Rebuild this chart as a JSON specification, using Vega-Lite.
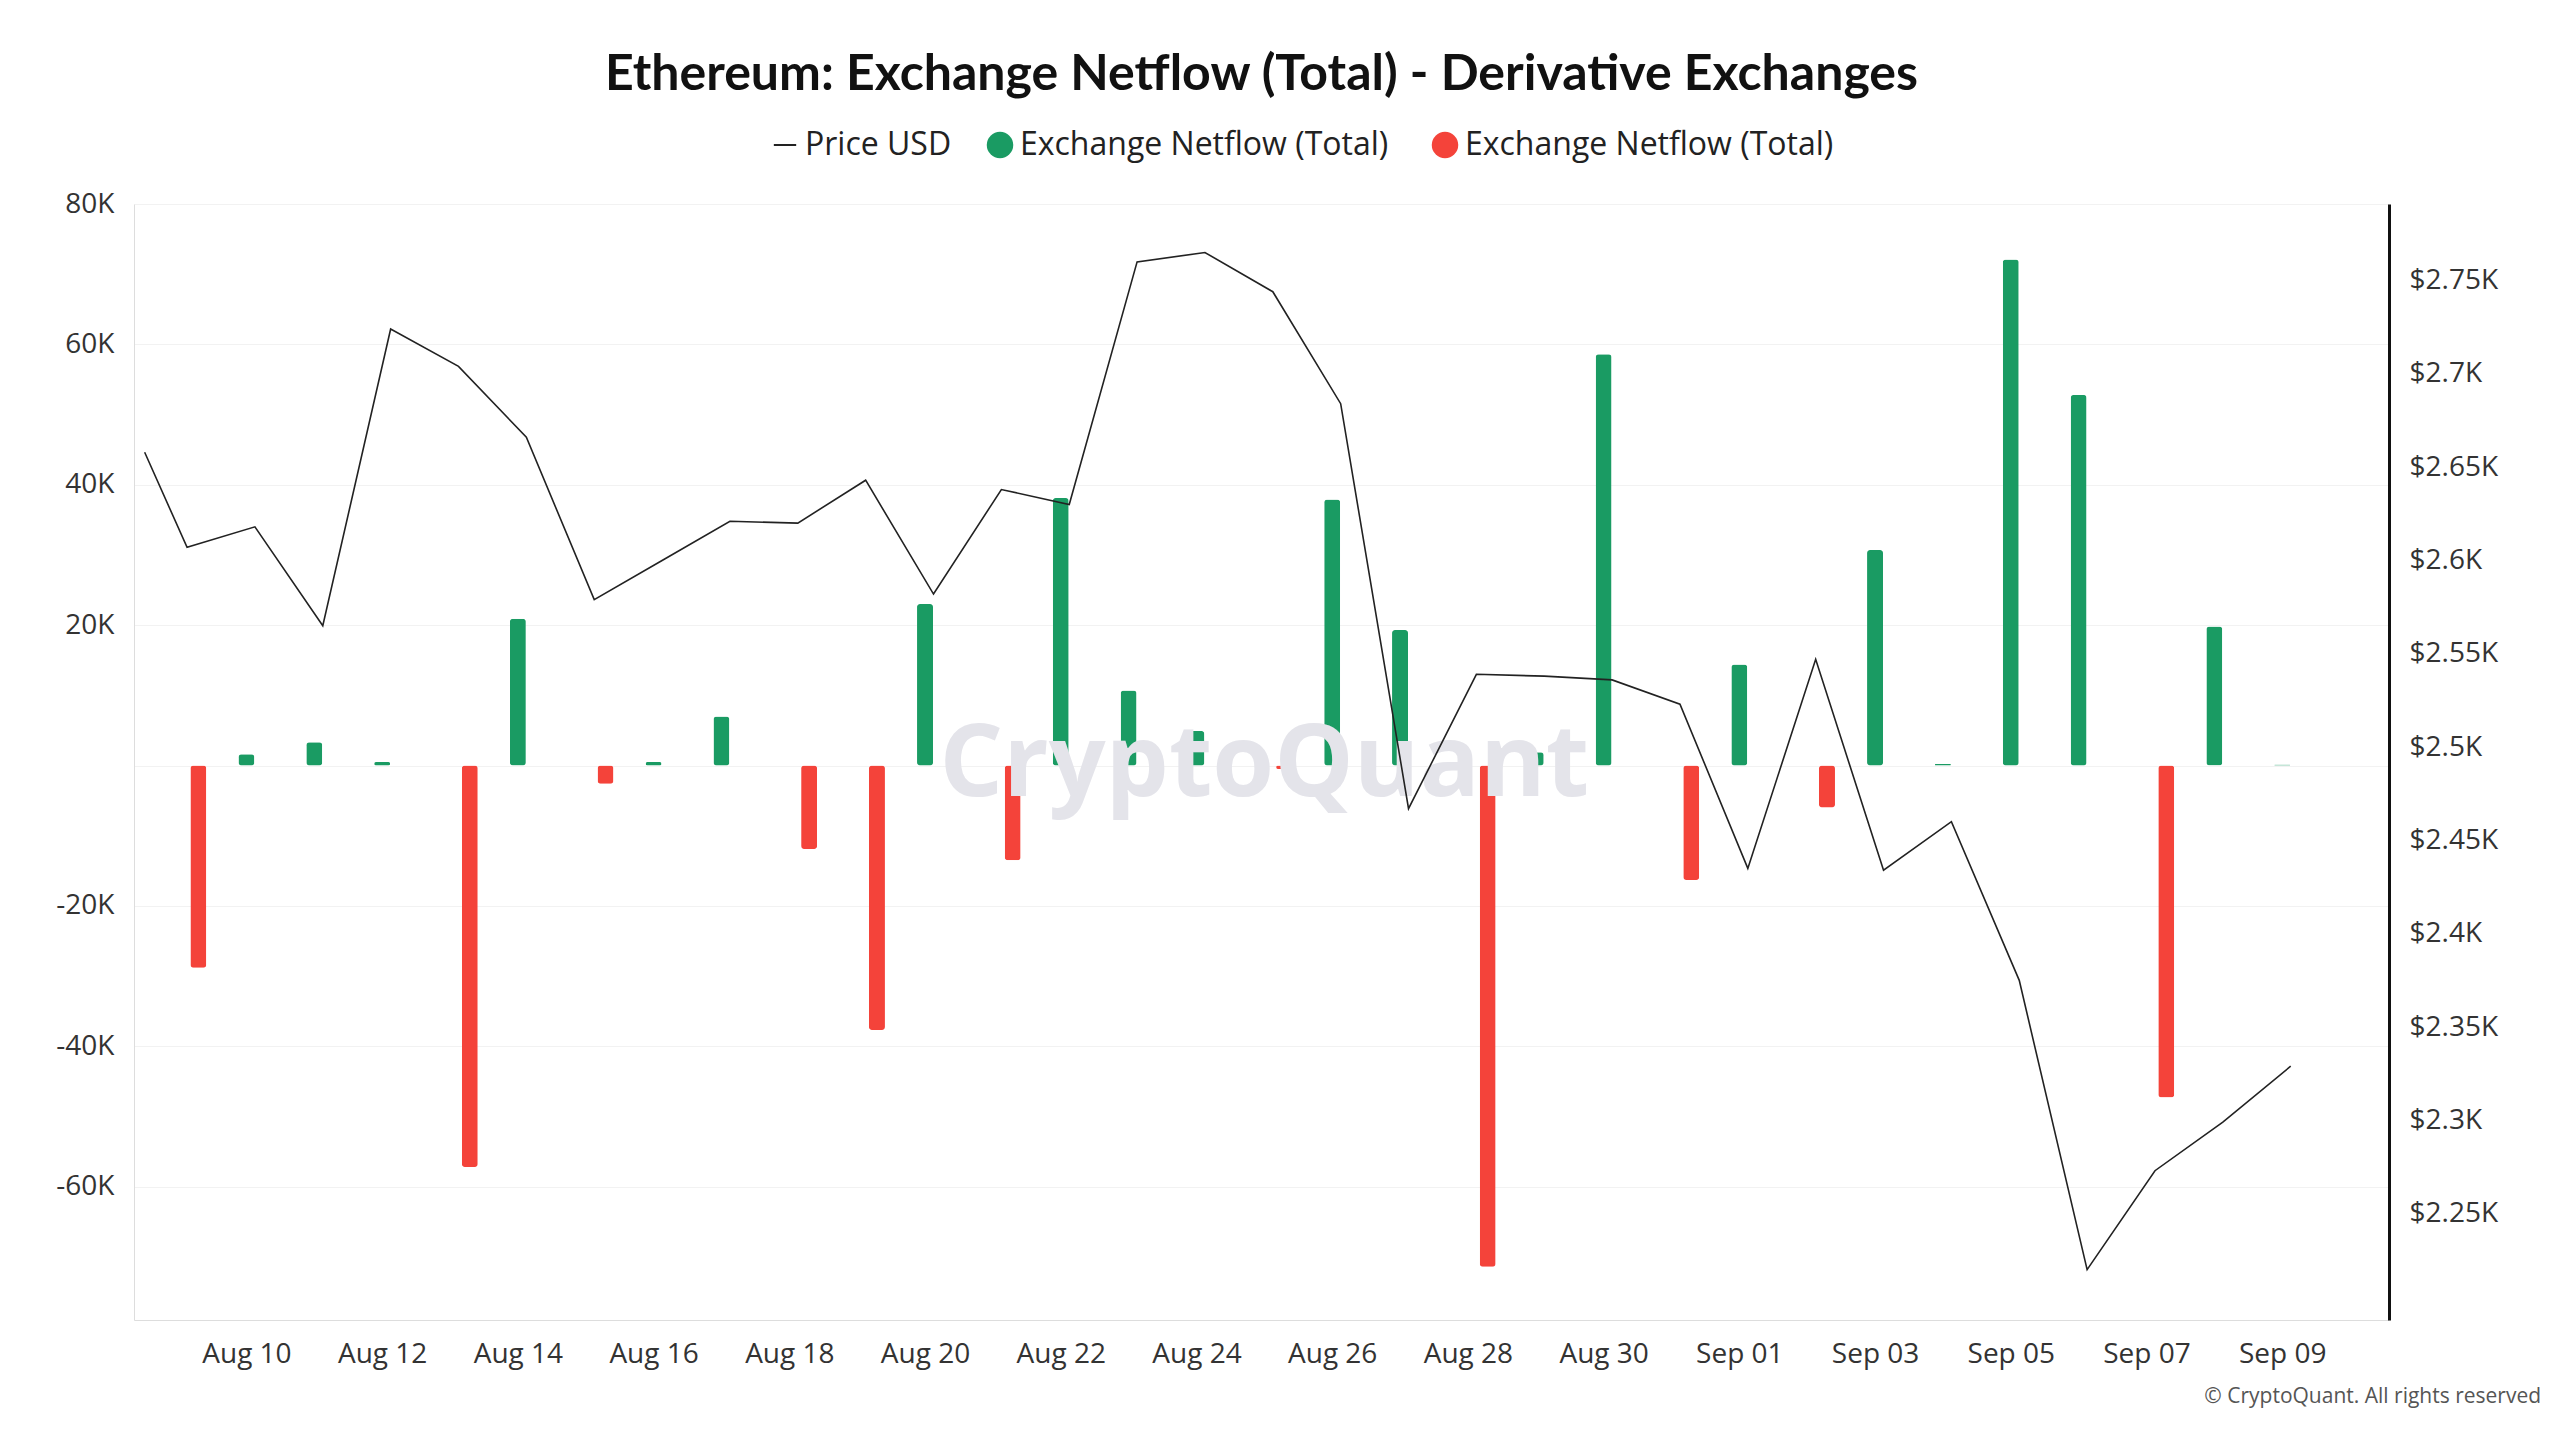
{
  "$schema": "https://vega.github.io/schema/vega-lite/v6.json",
  "width": 2560,
  "height": 1440,
  "autosize": {"type": "fit", "contains": "padding"},
  "padding": {"left": 55, "right": 20, "top": 50, "bottom": 10},
  "background": "white",
  "title": {"text": "Ethereum: Exchange Netflow (Total) - Derivative Exchanges", "font": "Lato", "fontSize": 50, "fontWeight": "bold", "color": "#111", "offset": 90},
  "config": {
    "font": "Open Sans",
    "view": {"stroke": null},
    "axis": {"labelFontSize": 28, "labelColor": "#333", "grid": false, "ticks": false, "domainColor": "#ddd", "title": null},
    "legend": {"labelLimit": 0, "labelFontSize": 32, "labelColor": "#222", "title": null, "orient": "none", "direction": "horizontal", "legendY": -75}
  },
  "datasets": {
    "flow": [
      {"t": "2024-08-09T07:00", "v": -28.8, "s": "out"},
      {"t": "2024-08-10T00:00", "v": 1.6, "s": "in"},
      {"t": "2024-08-11T00:00", "v": 3.3, "s": "in"},
      {"t": "2024-08-12T00:00", "v": 0.5, "s": "in"},
      {"t": "2024-08-13T07:00", "v": -57.2, "s": "out"},
      {"t": "2024-08-14T00:00", "v": 20.9, "s": "in"},
      {"t": "2024-08-15T07:00", "v": -2.6, "s": "out"},
      {"t": "2024-08-16T00:00", "v": 0.5, "s": "in"},
      {"t": "2024-08-17T00:00", "v": 7.0, "s": "in"},
      {"t": "2024-08-18T07:00", "v": -11.9, "s": "out"},
      {"t": "2024-08-19T07:00", "v": -37.7, "s": "out"},
      {"t": "2024-08-20T00:00", "v": 23.0, "s": "in"},
      {"t": "2024-08-21T07:00", "v": -13.5, "s": "out"},
      {"t": "2024-08-22T00:00", "v": 38.1, "s": "in"},
      {"t": "2024-08-23T00:00", "v": 10.7, "s": "in"},
      {"t": "2024-08-24T00:00", "v": 4.9, "s": "in"},
      {"t": "2024-08-25T07:00", "v": -0.5, "s": "out"},
      {"t": "2024-08-26T00:00", "v": 37.9, "s": "in"},
      {"t": "2024-08-27T00:00", "v": 19.3, "s": "in"},
      {"t": "2024-08-28T07:00", "v": -71.4, "s": "out"},
      {"t": "2024-08-29T00:00", "v": 1.9, "s": "in"},
      {"t": "2024-08-30T00:00", "v": 58.6, "s": "in"},
      {"t": "2024-08-31T07:00", "v": -16.3, "s": "out"},
      {"t": "2024-09-01T00:00", "v": 14.4, "s": "in"},
      {"t": "2024-09-02T07:00", "v": -6.0, "s": "out"},
      {"t": "2024-09-03T00:00", "v": 30.7, "s": "in"},
      {"t": "2024-09-04T00:00", "v": 0.2, "s": "in"},
      {"t": "2024-09-05T00:00", "v": 72.1, "s": "in"},
      {"t": "2024-09-06T00:00", "v": 52.8, "s": "in"},
      {"t": "2024-09-07T07:00", "v": -47.3, "s": "out"},
      {"t": "2024-09-08T00:00", "v": 19.8, "s": "in"},
      {"t": "2024-09-09T00:00", "v": 0.161, "s": "in"}
    ],
    "price": [
      {"t": "2024-08-08T12:00", "p": 2.658}, {"t": "2024-08-09T03:00", "p": 2.607},
      {"t": "2024-08-10T03:00", "p": 2.618}, {"t": "2024-08-11T03:00", "p": 2.565},
      {"t": "2024-08-12T03:00", "p": 2.724}, {"t": "2024-08-13T03:00", "p": 2.704},
      {"t": "2024-08-14T03:00", "p": 2.666}, {"t": "2024-08-15T03:00", "p": 2.579},
      {"t": "2024-08-16T03:00", "p": 2.600}, {"t": "2024-08-17T03:00", "p": 2.621},
      {"t": "2024-08-18T03:00", "p": 2.620}, {"t": "2024-08-19T03:00", "p": 2.643},
      {"t": "2024-08-20T03:00", "p": 2.582}, {"t": "2024-08-21T03:00", "p": 2.638},
      {"t": "2024-08-22T03:00", "p": 2.630}, {"t": "2024-08-23T03:00", "p": 2.760},
      {"t": "2024-08-24T03:00", "p": 2.765}, {"t": "2024-08-25T03:00", "p": 2.744},
      {"t": "2024-08-26T03:00", "p": 2.684}, {"t": "2024-08-27T03:00", "p": 2.467},
      {"t": "2024-08-28T03:00", "p": 2.539}, {"t": "2024-08-29T03:00", "p": 2.538},
      {"t": "2024-08-30T03:00", "p": 2.536}, {"t": "2024-08-31T03:00", "p": 2.523},
      {"t": "2024-09-01T03:00", "p": 2.435}, {"t": "2024-09-02T03:00", "p": 2.547},
      {"t": "2024-09-03T03:00", "p": 2.434}, {"t": "2024-09-04T03:00", "p": 2.460},
      {"t": "2024-09-05T03:00", "p": 2.375}, {"t": "2024-09-06T03:00", "p": 2.220},
      {"t": "2024-09-07T03:00", "p": 2.273}, {"t": "2024-09-08T03:00", "p": 2.299},
      {"t": "2024-09-09T03:00", "p": 2.329}
    ]
  },
  "layer": [
    {
      "data": {"name": "flow"},
      "mark": {"type": "bar", "width": 16, "cornerRadius": 3},
      "encoding": {
        "x": {"field": "t", "type": "temporal", "scale": {"domain": ["2024-08-08T10:00", "2024-09-10T12:00"]},
          "axis": {"format": "%b %d", "labelPadding": 20, "domainColor": "#ddd",
            "values": [{"year": 2024, "month": 8, "date": 10}, {"year": 2024, "month": 8, "date": 12}, {"year": 2024, "month": 8, "date": 14}, {"year": 2024, "month": 8, "date": 16}, {"year": 2024, "month": 8, "date": 18}, {"year": 2024, "month": 8, "date": 20}, {"year": 2024, "month": 8, "date": 22}, {"year": 2024, "month": 8, "date": 24}, {"year": 2024, "month": 8, "date": 26}, {"year": 2024, "month": 8, "date": 28}, {"year": 2024, "month": 8, "date": 30}, {"year": 2024, "month": 9, "date": 1}, {"year": 2024, "month": 9, "date": 3}, {"year": 2024, "month": 9, "date": 5}, {"year": 2024, "month": 9, "date": 7}, {"year": 2024, "month": 9, "date": 9}]}},
        "y": {"field": "v", "type": "quantitative", "scale": {"domain": [-79, 80], "nice": false},
          "axis": {"values": [-60, -40, -20, 0, 20, 40, 60, 80], "labelExpr": "datum.value == 0 ? '' : datum.value + 'K'", "grid": true, "gridColor": "#f2f2f2", "labelPadding": 20}},
        "color": {"field": "s", "type": "nominal",
          "scale": {"domain": ["in", "out"], "range": ["#1a9b63", "#f4433a"]},
          "legend": {"legendX": 850, "symbolSize": 700, "symbolType": "circle", "columnPadding": 40, "labelExpr": "'Exchange Netflow (Total)'"}}
      }
    },
    {
      "data": {"values": [{"t": "2024-08-25T00:00", "v": 0, "w": "CryptoQuant"}]},
      "mark": {"type": "text", "fontWeight": "bold", "fontSize": 100, "color": "#e4e4ea"},
      "encoding": {"x": {"field": "t", "type": "temporal"}, "y": {"field": "v", "type": "quantitative", "axis": null, "scale": {"domain": [-79, 80], "nice": false}}, "text": {"field": "w"}}
    },
    {
      "data": {"values": [{"t": "2024-09-10T08:00", "v": -90, "w": "© CryptoQuant. All rights reserved"}]},
      "mark": {"type": "text", "fontSize": 21, "color": "#555"},
      "encoding": {"x": {"field": "t", "type": "temporal"}, "y": {"field": "v", "type": "quantitative", "axis": null, "scale": {"domain": [-79, 80], "nice": false}}, "text": {"field": "w"}}
    },
    {
      "data": {"name": "price"},
      "mark": {"type": "line", "strokeWidth": 1.6},
      "encoding": {
        "x": {"field": "t", "type": "temporal"},
        "y": {"field": "p", "type": "quantitative", "scale": {"domain": [2.193, 2.791], "nice": false, "zero": false},
          "axis": {"orient": "right", "values": [2.25, 2.3, 2.35, 2.4, 2.45, 2.5, 2.55, 2.6, 2.65, 2.7, 2.75], "labelExpr": "'$' + format(datum.value, '.2~f') + 'K'", "domainColor": "#111", "domainWidth": 3, "labelPadding": 20}},
        "stroke": {"datum": "Price USD", "scale": {"range": ["#222222"]}, "legend": {"legendX": 635, "symbolType": "stroke", "symbolStrokeWidth": 2, "symbolSize": 500}}
      }
    }
  ],
  "resolve": {"scale": {"y": "independent"}}
}
